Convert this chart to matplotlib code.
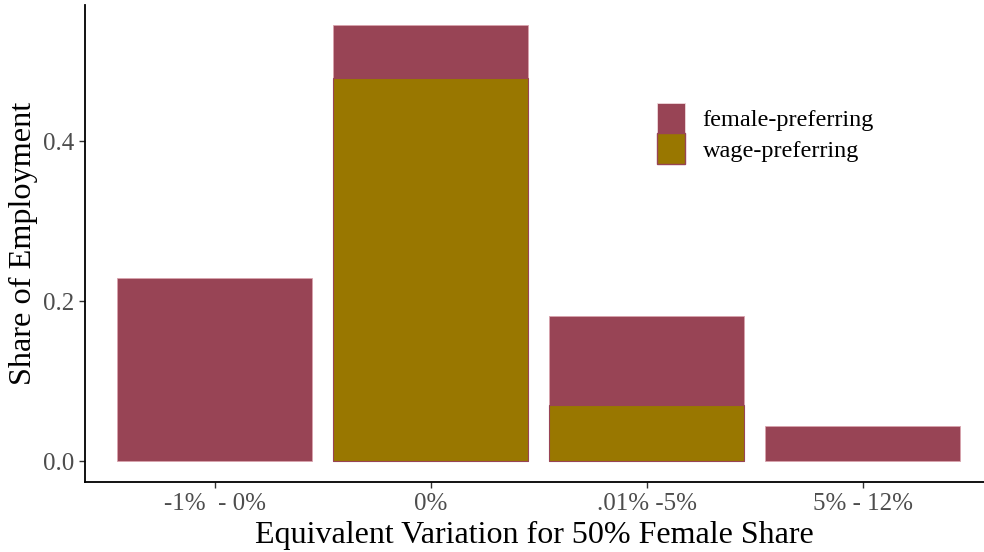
import matplotlib.pyplot as plt
import numpy as np
from matplotlib.patches import Patch

plt.rcParams['font.family'] = ['Liberation Serif', 'DejaVu Serif']

# categories and values (share of employment)
categories = ['-1%  - 0%', '0%', '.01% -5%', '5% - 12%']
female_pref = [0.229, 0.545, 0.181, 0.044]
wage_pref = [np.nan, 0.479, 0.070, np.nan]

female_col = '#984455'
wage_col = '#997700'

fig = plt.figure(figsize=(9.84, 5.52), dpi=100)
ax = fig.add_axes([85 / 984, (552 - 482) / 552, (984 - 85) / 984, (482 - 5) / 552])

x = np.arange(1, len(categories) + 1)
ax.bar(x, female_pref, width=0.9, color=female_col, edgecolor='#d9a3ad', linewidth=0.6, zorder=2)
ax.bar(x, wage_pref, width=0.9, color=wage_col, edgecolor=female_col, linewidth=0.8, zorder=3)

ax.set_xlim(0.4, 0.4 + (984 - 85) / 216)
ax.set_ylim(-0.026, 0.57)
ax.set_xticks(x)
ax.set_xticklabels(categories)
ax.set_yticks([0.0, 0.2, 0.4])
ax.set_yticklabels(['0.0', '0.2', '0.4'])

for s in ['top', 'right']:
    ax.spines[s].set_visible(False)
for s in ['left', 'bottom']:
    ax.spines[s].set_linewidth(1.3)
    ax.spines[s].set_color('black')

ax.tick_params(axis='both', length=4, width=1, color='#333333', labelsize=18, labelcolor='#4d4d4d', pad=4)

ax.set_xlabel('Equivalent Variation for 50% Female Share', fontsize=23, color='black', labelpad=4)
ax.set_ylabel('Share of Employment', fontsize=23.2, color='black', labelpad=3)

handles = [Patch(facecolor=female_col, edgecolor='#f0d8dc', linewidth=0.6, label='female-preferring'),
           Patch(facecolor=wage_col, edgecolor=female_col, linewidth=1.0, label='wage-preferring')]
ax.legend(handles=handles, loc='upper left', bbox_to_anchor=(0.625, 0.815), frameon=False,
          fontsize=17.5, handlelength=1.15, handleheight=1.55, handletextpad=0.75, labelspacing=0.0,
          borderaxespad=0)

fig.savefig('out.png', dpi=100)
